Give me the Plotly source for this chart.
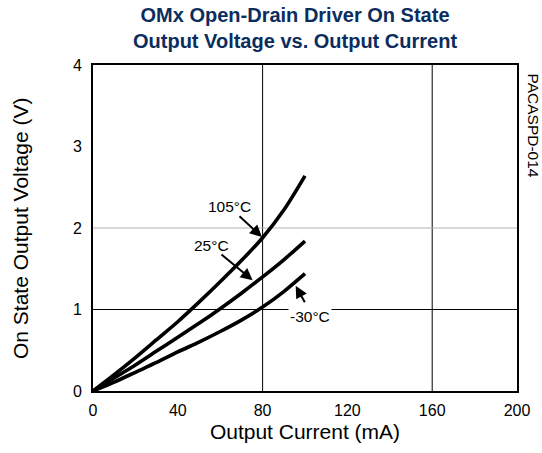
import plotly.graph_objects as go

current_ma = [0, 10, 20, 30, 40, 50, 60, 70, 80, 90, 100]
v_105c = [0, 0.20, 0.41, 0.63, 0.85, 1.09, 1.34, 1.60, 1.88, 2.22, 2.64]
v_25c = [0, 0.16, 0.32, 0.49, 0.66, 0.83, 1.01, 1.20, 1.40, 1.61, 1.84]
v_m30c = [0, 0.11, 0.23, 0.35, 0.48, 0.60, 0.73, 0.87, 1.03, 1.22, 1.44]

series = [("105°C", v_105c), ("25°C", v_25c), ("-30°C", v_m30c)]

x_ticks = [0, 40, 80, 120, 160, 200]
y_ticks = [0, 1, 2, 3, 4]
x_grid_black = [80, 160]
y_grid_black = [1]
y_grid_gray = [2]

FONT = "Liberation Sans, Arial, sans-serif"
W, H = 542, 453
pl, pr, pt, pb = 93, 25, 65, 62
pw, ph = W - pl - pr, H - pt - pb

fig = go.Figure()
for name, vals in series:
    fig.add_trace(go.Scatter(x=current_ma, y=vals, mode="lines", name=name,
                             line=dict(color="black", width=3.6, shape="spline", smoothing=0.8),
                             showlegend=False, hoverinfo="skip"))

shapes = []
for gx in x_grid_black:
    shapes.append(dict(type="line", xref="x", yref="paper", x0=gx, x1=gx, y0=0, y1=1,
                       line=dict(color="black", width=1), layer="below"))
for gy in y_grid_black:
    shapes.append(dict(type="line", xref="paper", yref="y", x0=0, x1=1, y0=gy, y1=gy,
                       line=dict(color="black", width=1), layer="below"))
for gy in y_grid_gray:
    shapes.append(dict(type="line", xref="paper", yref="y", x0=0, x1=1, y0=gy, y1=gy,
                       line=dict(color="#b3b3b3", width=1), layer="below"))

lab_font = dict(family=FONT, size=15.5, color="black")
annotations = [
    # labels
    dict(x=64.6, y=2.27, xref="x", yref="y", text="105°C", showarrow=False, font=lab_font),
    dict(x=55.7, y=1.78, xref="x", yref="y", text="25°C", showarrow=False, font=lab_font),
    dict(x=102.4, y=0.91, xref="x", yref="y", text="-30°C", showarrow=False, bgcolor="white",
         font=lab_font),
    # arrows
    dict(x=79.7, y=1.89, ax=68.4, ay=2.16, xref="x", yref="y", axref="x", ayref="y",
         text="", showarrow=True, arrowhead=2, arrowsize=1.2, arrowwidth=2, arrowcolor="black"),
    dict(x=75.3, y=1.36, ax=59.9, ay=1.69, xref="x", yref="y", axref="x", ayref="y",
         text="", showarrow=True, arrowhead=2, arrowsize=1.2, arrowwidth=2, arrowcolor="black"),
    dict(x=95.6, y=1.29, ax=100.3, ay=1.07, xref="x", yref="y", axref="x", ayref="y",
         text="", showarrow=True, arrowhead=2, arrowsize=1.2, arrowwidth=2, arrowcolor="black"),
    # side code
    dict(x=1.0, y=1.0, xref="paper", yref="paper", xanchor="left", yanchor="top",
         xshift=6, yshift=-6, text="PACASPD-014", showarrow=False, textangle=90,
         font=dict(family=FONT, size=15.5, color="black")),
    # y axis title
    dict(x=(20 - pl) / pw, y=0.5, xref="paper", yref="paper", xanchor="center",
         yanchor="middle", text="On State Output Voltage (V)", showarrow=False, textangle=-90,
         font=dict(family=FONT, size=21, color="black")),
    # chart title
    dict(x=(295 - pl) / pw, y=1.0, xref="paper", yref="paper", xanchor="center",
         yanchor="top", yshift=pt - 2, showarrow=False,
         text="<b>OMx Open-Drain Driver On State<br>Output Voltage vs. Output Current</b>",
         font=dict(family=FONT, size=20, color="#0b2d5e")),
]

fig.update_layout(
    width=W, height=H,
    margin=dict(l=pl, r=pr, t=pt, b=pb),
    paper_bgcolor="white", plot_bgcolor="white",
    xaxis=dict(range=[0, 200], tickvals=x_ticks, showgrid=False, zeroline=False,
               showline=True, linecolor="black", linewidth=2, mirror=True,
               ticks="", ticklen=0, ticklabelstandoff=4,
               tickfont=dict(family=FONT, size=16, color="black"),
               title=dict(text="Output Current (mA)", font=dict(family=FONT, size=21, color="black"),
                          standoff=6)),
    yaxis=dict(range=[0, 4], tickvals=y_ticks, showgrid=False, zeroline=False,
               showline=True, linecolor="black", linewidth=2, mirror=True,
               ticks="", ticklen=0, ticklabelstandoff=6,
               tickfont=dict(family=FONT, size=16, color="black")),
    shapes=shapes,
    annotations=annotations,
)

fig.write_html("out.html", config={"displayModeBar": False},
               post_script="document.body.style.margin='0';")
